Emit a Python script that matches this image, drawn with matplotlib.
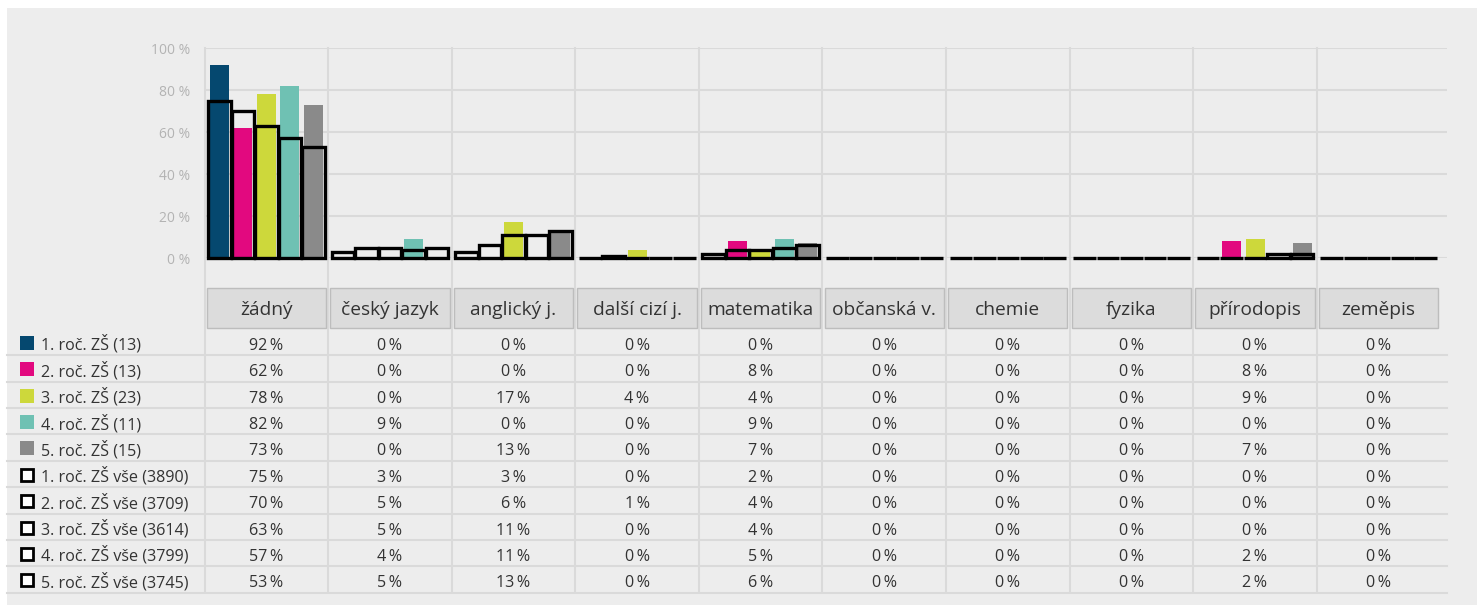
import numpy as np
import matplotlib.pyplot as plt
from matplotlib.patches import Rectangle
from matplotlib.lines import Line2D
from matplotlib.transforms import blended_transform_factory

plt.rcParams['font.family'] = ['Open Sans', 'DejaVu Sans']

subjects = ["žádný", "český jazyk", "anglický j.", "další cizí j.", "matematika",
            "občanská v.", "chemie", "fyzika", "přírodopis", "zeměpis"]

class_labels = ["1. roč. ZŠ (13)", "2. roč. ZŠ (13)", "3. roč. ZŠ (23)",
                "4. roč. ZŠ (11)", "5. roč. ZŠ (15)"]
all_labels = ["1. roč. ZŠ vše (3890)", "2. roč. ZŠ vše (3709)", "3. roč. ZŠ vše (3614)",
              "4. roč. ZŠ vše (3799)", "5. roč. ZŠ vše (3745)"]

# school classes
class_1 = [92, 0, 0, 0, 0, 0, 0, 0, 0, 0]
class_2 = [62, 0, 0, 0, 8, 0, 0, 0, 8, 0]
class_3 = [78, 0, 17, 4, 4, 0, 0, 0, 9, 0]
class_4 = [82, 9, 0, 0, 9, 0, 0, 0, 0, 0]
class_5 = [73, 0, 13, 0, 7, 0, 0, 0, 7, 0]

# all schools
all_1 = [75, 3, 3, 0, 2, 0, 0, 0, 0, 0]
all_2 = [70, 5, 6, 1, 4, 0, 0, 0, 0, 0]
all_3 = [63, 5, 11, 0, 4, 0, 0, 0, 0, 0]
all_4 = [57, 4, 11, 0, 5, 0, 0, 0, 2, 0]
all_5 = [53, 5, 13, 0, 6, 0, 0, 0, 2, 0]

class_vals = [class_1, class_2, class_3, class_4, class_5]
all_vals = [all_1, all_2, all_3, all_4, all_5]
colors = ["#05486f", "#e2097f", "#cdd83b", "#6fc1b3", "#8a8a8a"]

BG = "#ededed"
GRID = "#dadada"
TXT = "#333333"

W, H = 1477, 605
fig = plt.figure(figsize=(W / 100, H / 100), dpi=100)
fig.patch.set_facecolor("white")
fig.add_artist(Rectangle((7 / W, 0), 1, 1 - 8 / H, transform=fig.transFigure,
                         facecolor=BG, edgecolor="none", zorder=0))


def fy(py):
    return 1 - py / H


cat_w = 123.58
left, right = 204.5, 1447
ax = fig.add_axes([left / W, fy(258), (right - left) / W, 210 / H])
ax.set_facecolor("none")
ax.set_xlim(0, (right - left) / cat_w)
ax.set_ylim(0, 100)
for s in ax.spines.values():
    s.set_visible(False)
ax.set_xticks([])
ax.set_yticks(range(0, 101, 20))
ax.set_yticklabels([f"{v} %" for v in range(0, 101, 20)])
ax.tick_params(axis="y", length=0, pad=10.5, labelcolor="#b3b3b3", labelsize=10)
ax.yaxis.grid(True, color=GRID, lw=1.5)
ax.set_axisbelow(True)

slot = 0.19
start = 0.026
x = np.arange(len(subjects))

for j in range(5):
    xs = x + start + slot * (j + 0.5)
    ax.bar(xs, class_vals[j], width=slot * 0.81, color=colors[j], zorder=2, clip_on=False)
for j in range(5):
    xs = x + start + slot * (j + 0.5)
    ax.bar(xs, all_vals[j], width=slot * 0.97, facecolor="none", edgecolor="black",
           lw=2.4, zorder=3, clip_on=False)

trans = blended_transform_factory(ax.transData, fig.transFigure)

# column separators running through the chart and the table
for i in range(len(subjects)):
    ax.add_line(Line2D([i, i], [fy(48), fy(592)], transform=trans, color=GRID,
                       lw=1.5, clip_on=False, zorder=0))

# column headers
for i, name in enumerate(subjects):
    ax.add_patch(Rectangle((i + 0.018, fy(328)), 0.965, 40 / H, transform=trans,
                           facecolor="#dcdcdc", edgecolor="#bdbdbd", lw=1,
                           clip_on=False, zorder=1))
    ax.text(i + 0.5, fy(315), name, transform=trans, ha="center", va="baseline",
            fontsize=13.8, color=TXT, clip_on=False)

# table rows
row_h = 26.37
row_labels = class_labels + all_labels
row_vals = class_vals + all_vals
for k, (lab, vals) in enumerate(zip(row_labels, row_vals)):
    base = 350 + row_h * k
    line_y = fy(355.3 + row_h * k)
    fig.add_artist(Line2D([7 / W, right / W], [line_y, line_y], color=GRID, lw=1.5, zorder=1))
    if k < 5:
        fig.add_artist(Rectangle((20 / W, fy(base)), 14 / W, 14 / H, transform=fig.transFigure,
                                 facecolor=colors[k], edgecolor="none", zorder=2))
    else:
        fig.add_artist(Rectangle((21 / W, fy(base - 1)), 12 / W, 12 / H, transform=fig.transFigure,
                                 facecolor="white", edgecolor="black", lw=2, zorder=2))
    fig.text(41 / W, fy(base), lab, ha="left", va="baseline", fontsize=11.6, color=TXT)
    for i, v in enumerate(vals):
        ax.text(i + 0.5, fy(base), f"{v}\u2009%", transform=trans, ha="center",
                va="baseline", fontsize=11.6, color=TXT, clip_on=False)

fig.savefig("out.png", dpi=100, facecolor=fig.get_facecolor())
